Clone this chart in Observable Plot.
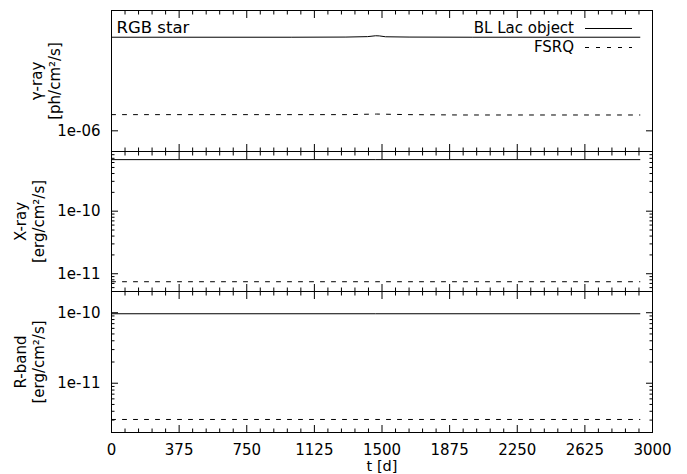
<!DOCTYPE html>
<html><head><meta charset="utf-8">
<script src="https://cdn.jsdelivr.net/npm/d3@7"></script>
<script src="https://cdn.jsdelivr.net/npm/@observablehq/plot@0.6"></script>
<style>
body{margin:0;background:#fff;}
#chart{position:relative;width:687px;height:474px;font-family:"DejaVu Sans";}
#chart svg{position:absolute;left:0;overflow:visible;}
</style></head>
<body><div id="chart"></div>
<script>
// ---- data ----
const xTicks = [0, 375, 750, 1125, 1500, 1875, 2250, 2625, 3000];
const panelTitles = ["γ-ray\n[ph/cm²/s]", "X-ray\n[erg/cm²/s]", "R-band\n[erg/cm²/s]"];
const seriesNames = ["BL Lac object", "FSRQ"];
const sourceLabel = "RGB star";

const tGammaBL = [0, 1000, 1300, 1420, 1465, 1485, 1520, 1650, 2000, 2930];
const gammaBL  = [2.94e-6, 2.94e-6, 2.945e-6, 2.96e-6, 2.99e-6, 2.985e-6, 2.955e-6, 2.945e-6, 2.94e-6, 2.94e-6];
const tGammaFSRQ = [0, 1300, 1470, 1650, 1950, 2930];
const gammaFSRQ  = [1.205e-6, 1.205e-6, 1.213e-6, 1.205e-6, 1.20e-6, 1.20e-6];

const tFlat = [0, 1465, 2930];
const xrayBL   = [6.67e-10, 6.67e-10, 6.67e-10];
const xrayFSRQ = [7.45e-12, 7.45e-12, 7.45e-12];
const rBL      = [9.67e-11, 9.67e-11, 9.67e-11];
const rFSRQ    = [3.06e-12, 3.06e-12, 3.06e-12];

const yTicksGamma = [1e-6];
const yTicksX = [1e-11, 1e-10];
const yTicksR = [1e-11, 1e-10];

// ---- helpers ----
const xMinor = d3.range(0, 3001, 75).filter(v => v % 375 !== 0);
function logMinor(domain) {
  const out = [];
  for (let e = -14; e <= -4; e++) for (let k = 2; k <= 9; k++) {
    const v = k * Math.pow(10, e);
    if (v > domain[0] && v < domain[1]) out.push(v);
  }
  return out;
}
function fmtExp(v) {
  const [m, e] = v.toExponential(0).split("e");
  const s = e[0] === "-" ? "-" : "+";
  const n = Math.abs(+e);
  return m + "e" + s + (n < 10 ? "0" + n : n);
}
const zip = (t, v) => t.map((d, i) => ({t: d, v: v[i]}));

function panel({top, height, marginTop, marginBottom, domain, yMajor, minor, bl, fsrq, title, titleDx, showX, extra = []}) {
  const marks = [
    Plot.frame({stroke: "black"}),
    Plot.axisX({anchor: "top", ticks: xTicks, tickSize: -7, fill: "none", stroke: "black"}),
    Plot.axisX({anchor: "bottom", ticks: xTicks, tickSize: -7, fill: "none", stroke: "black"}),
    Plot.axisX({anchor: "top", ticks: xMinor, tickSize: -3.5, fill: "none", stroke: "black"}),
    Plot.axisX({anchor: "bottom", ticks: xMinor, tickSize: -3.5, fill: "none", stroke: "black"}),
    Plot.axisY({anchor: "left", ticks: yMajor, tickSize: -7, fill: "none", stroke: "black"}),
    Plot.axisY({anchor: "right", ticks: yMajor, tickSize: -7, fill: "none", stroke: "black"}),
    Plot.axisY({anchor: "left", ticks: yMajor, tickSize: 0, tickPadding: 11, tickFormat: fmtExp, label: null, fill: "black"}),
    Plot.text([title], {text: d => d, frameAnchor: "left", rotate: -90, dx: titleDx, lineHeight: 1.2, textAnchor: "middle", lineAnchor: "middle", fill: "black"}),
    Plot.lineY(bl, {x: "t", y: "v", stroke: "black", strokeWidth: 1}),
    Plot.lineY(fsrq, {x: "t", y: "v", stroke: "black", strokeWidth: 1, strokeDasharray: "4,7"}),
    ...extra
  ];
  if (minor.length) {
    marks.push(Plot.axisY({anchor: "left", ticks: minor, tickSize: -3.5, fill: "none", stroke: "black"}));
    marks.push(Plot.axisY({anchor: "right", ticks: minor, tickSize: -3.5, fill: "none", stroke: "black"}));
  }
  if (showX) {
    marks.push(Plot.axisX({anchor: "bottom", ticks: xTicks, tickSize: 0, tickPadding: 12, tickFormat: d => String(d), label: null, fill: "black"}));
    marks.push(Plot.text(["t [d]"], {text: d => d, frameAnchor: "bottom", dy: 33.5, lineAnchor: "middle", fill: "black", fontSize: 14.5}));
  }
  const svg = Plot.plot({
    width: 687, height, marginLeft: 111, marginRight: 35, marginTop, marginBottom,
    style: {fontFamily: "DejaVu Sans", fontSize: "15px", color: "black", background: "transparent", overflow: "visible"},
    x: {domain: [0, 3000]},
    y: {type: "log", domain},
    marks
  });
  svg.style.top = top + "px";
  document.getElementById("chart").appendChild(svg);
}

const dG = [7.88e-7, 4.0e-6], dX = [5.2e-12, 9.0e-10], dR = [2.0e-12, 2.0e-10];

panel({top: 0, height: 151, marginTop: 10, marginBottom: 0, domain: dG, yMajor: yTicksGamma, minor: [],
  bl: zip(tGammaBL, gammaBL), fsrq: zip(tGammaFSRQ, gammaFSRQ), title: panelTitles[0], titleDx: -66, showX: false,
  extra: [Plot.text([sourceLabel], {text: d => d, frameAnchor: "top-left", dx: 5, dy: 17, lineAnchor: "middle", textAnchor: "start", fill: "black", fontSize: 16.5})]});
panel({top: 151, height: 140, marginTop: 0, marginBottom: 0, domain: dX, yMajor: yTicksX, minor: logMinor(dX),
  bl: zip(tFlat, xrayBL), fsrq: zip(tFlat, xrayFSRQ), title: panelTitles[1], titleDx: -82, showX: false});
panel({top: 291, height: 183, marginTop: 0, marginBottom: 42, domain: dR, yMajor: yTicksR, minor: logMinor(dR),
  bl: zip(tFlat, rBL), fsrq: zip(tFlat, rFSRQ), title: panelTitles[2], titleDx: -82, showX: true});

// ---- legend (drawn as an overlay, top-right of the first panel) ----
const leg = d3.select("#chart").append("svg").attr("width", 687).attr("height", 60).style("top", "0px")
  .style("font-family", "DejaVu Sans").style("font-size", "15px");
seriesNames.forEach((name, i) => {
  const y = 28 + i * 18.5;
  leg.append("text").attr("x", 574).attr("y", y).attr("dy", "0.35em").attr("text-anchor", "end").attr("fill", "black").text(name);
  leg.append("line").attr("x1", 585).attr("x2", 632).attr("y1", Math.round(y) + 0.5).attr("y2", Math.round(y) + 0.5)
    .attr("stroke", "black").attr("stroke-width", 1).attr("stroke-dasharray", i ? "4,7" : null);
});
</script></body></html>
